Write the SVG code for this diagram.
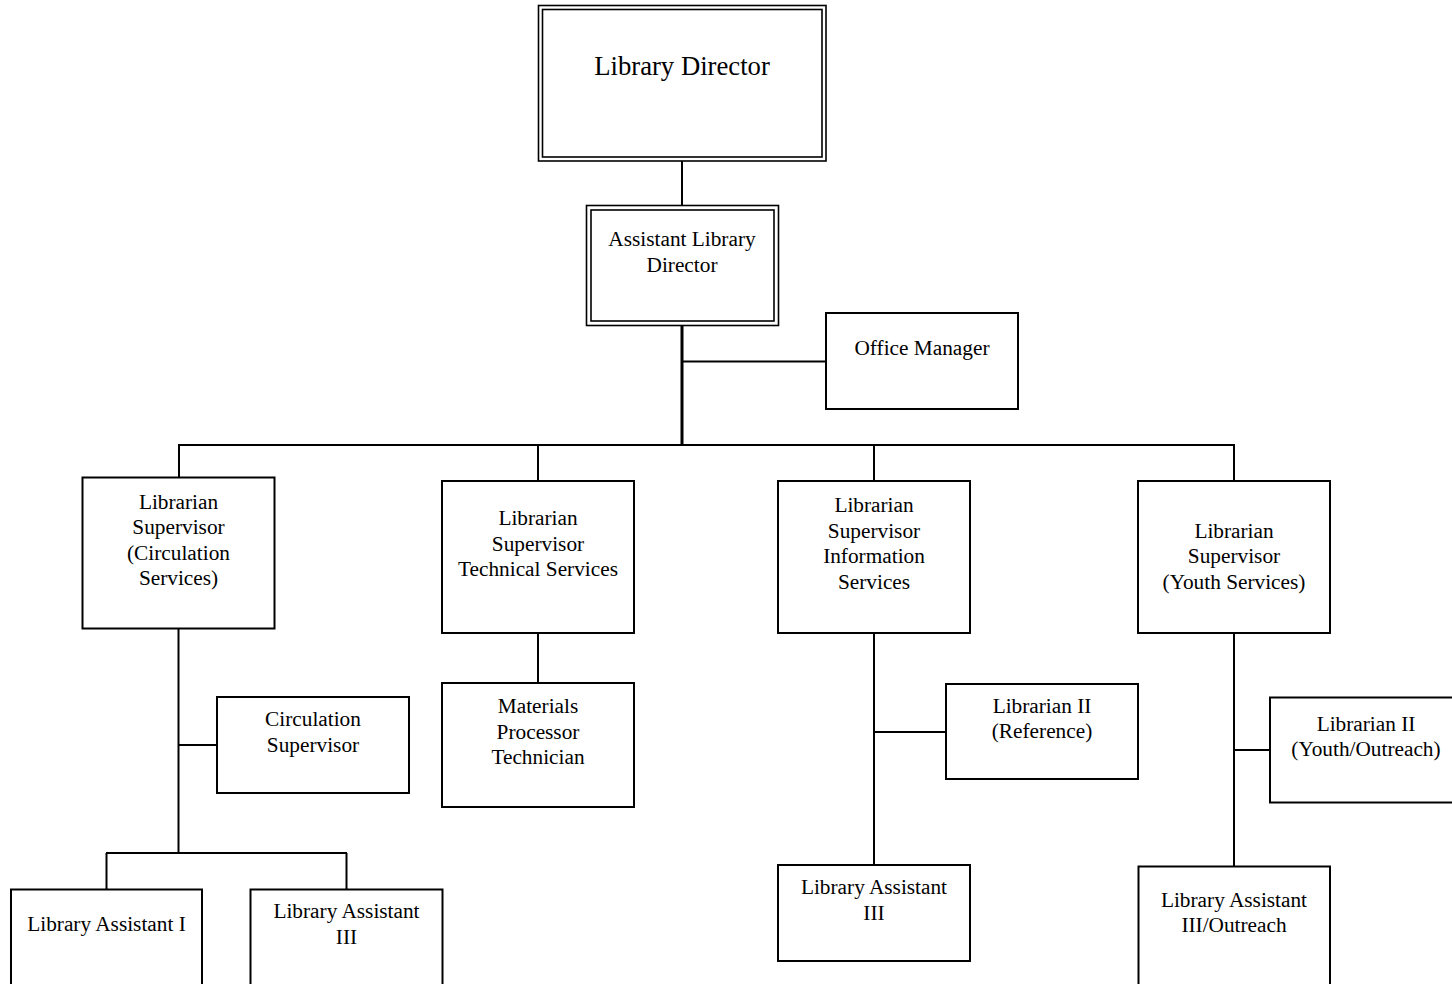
<svg xmlns="http://www.w3.org/2000/svg" width="1452" height="984" viewBox="0 0 1452 984">
<style>
.box{fill:#fff;stroke:#000;stroke-width:2}
.dbl{fill:none;stroke:#000;stroke-width:1.6}
.t{font-family:"Liberation Serif","Times New Roman",serif;font-size:21.3px;fill:#000;text-anchor:middle}
.big{font-size:26.7px}
.c line{stroke:#000;stroke-width:2}
</style>
<rect width="1452" height="984" fill="#fff"/>
<g class="c" id="connectors">
<line x1="682" y1="161" x2="682" y2="205"/>
<line x1="682" y1="325" x2="682" y2="446" style="stroke-width:3"/>
<line x1="682" y1="361.5" x2="826" y2="361.5"/>
<line x1="178" y1="445" x2="1235" y2="445"/>
<line x1="179" y1="445" x2="179" y2="477"/>
<line x1="538" y1="445" x2="538" y2="481"/>
<line x1="874" y1="445" x2="874" y2="481"/>
<line x1="1234" y1="445" x2="1234" y2="481"/>
<line x1="178.5" y1="629" x2="178.5" y2="854"/>
<line x1="178.5" y1="745" x2="217" y2="745"/>
<line x1="106" y1="853" x2="347" y2="853"/>
<line x1="106.5" y1="853" x2="106.5" y2="889"/>
<line x1="346.5" y1="853" x2="346.5" y2="889"/>
<line x1="538" y1="633" x2="538" y2="683"/>
<line x1="874" y1="633" x2="874" y2="865"/>
<line x1="874" y1="732" x2="946" y2="732"/>
<line x1="1234" y1="633" x2="1234" y2="866"/>
<line x1="1234" y1="750" x2="1270" y2="750"/>
</g>
<g id="director">
<rect class="dbl" x="538.5" y="5.5" width="287.5" height="155.5"/>
<rect class="dbl" x="542.5" y="9.5" width="279.5" height="147.5"/>
<text class="t big" x="682" y="75">Library Director</text>
</g>
<g id="assistant-director">
<rect class="dbl" x="586.5" y="205.5" width="192" height="120"/>
<rect class="dbl" x="591" y="210" width="183" height="111"/>
<text class="t" x="682" y="246">Assistant Library</text>
<text class="t" x="682" y="272">Director</text>
</g>
<g id="office-manager">
<rect class="box" x="826" y="313" width="192" height="96"/>
<text class="t" x="922" y="355">Office Manager</text>
</g>
<g id="sup-circulation">
<rect class="box" x="82.5" y="477.5" width="192" height="151"/>
<text class="t" x="178.5" y="509">Librarian</text>
<text class="t" x="178.5" y="534">Supervisor</text>
<text class="t" x="178.5" y="560">(Circulation</text>
<text class="t" x="178.5" y="585">Services)</text>
</g>
<g id="sup-technical">
<rect class="box" x="442" y="481" width="192" height="152"/>
<text class="t" x="538" y="525">Librarian</text>
<text class="t" x="538" y="551">Supervisor</text>
<text class="t" x="538" y="576">Technical Services</text>
</g>
<g id="sup-information">
<rect class="box" x="778" y="481" width="192" height="152"/>
<text class="t" x="874" y="512">Librarian</text>
<text class="t" x="874" y="538">Supervisor</text>
<text class="t" x="874" y="563">Information</text>
<text class="t" x="874" y="589">Services</text>
</g>
<g id="sup-youth">
<rect class="box" x="1138" y="481" width="192" height="152"/>
<text class="t" x="1234" y="538">Librarian</text>
<text class="t" x="1234" y="563">Supervisor</text>
<text class="t" x="1234" y="589">(Youth Services)</text>
</g>
<g id="circ-supervisor">
<rect class="box" x="217" y="697" width="192" height="96"/>
<text class="t" x="313" y="726">Circulation</text>
<text class="t" x="313" y="752">Supervisor</text>
</g>
<g id="lib-assistant-1">
<rect class="box" x="11" y="889.5" width="191" height="110"/>
<text class="t" x="106.5" y="931">Library Assistant I</text>
</g>
<g id="lib-assistant-3-circ">
<rect class="box" x="250.5" y="889.5" width="192" height="110"/>
<text class="t" x="346.5" y="918">Library Assistant</text>
<text class="t" x="346.5" y="944">III</text>
</g>
<g id="materials-processor">
<rect class="box" x="442" y="683" width="192" height="124"/>
<text class="t" x="538" y="713">Materials</text>
<text class="t" x="538" y="739">Processor</text>
<text class="t" x="538" y="764">Technician</text>
</g>
<g id="librarian2-reference">
<rect class="box" x="946" y="684" width="192" height="95"/>
<text class="t" x="1042" y="713">Librarian II</text>
<text class="t" x="1042" y="738">(Reference)</text>
</g>
<g id="lib-assistant-3-info">
<rect class="box" x="778" y="865" width="192" height="96"/>
<text class="t" x="874" y="894">Library Assistant</text>
<text class="t" x="874" y="920">III</text>
</g>
<g id="librarian2-youth">
<rect class="box" x="1270" y="697.5" width="192" height="105"/>
<text class="t" x="1366" y="731">Librarian II</text>
<text class="t" x="1366" y="756">(Youth/Outreach)</text>
</g>
<g id="lib-assistant-3-outreach">
<rect class="box" x="1138.5" y="866.5" width="191.5" height="130"/>
<text class="t" x="1234" y="907">Library Assistant</text>
<text class="t" x="1234" y="932">III/Outreach</text>
</g>
</svg>
